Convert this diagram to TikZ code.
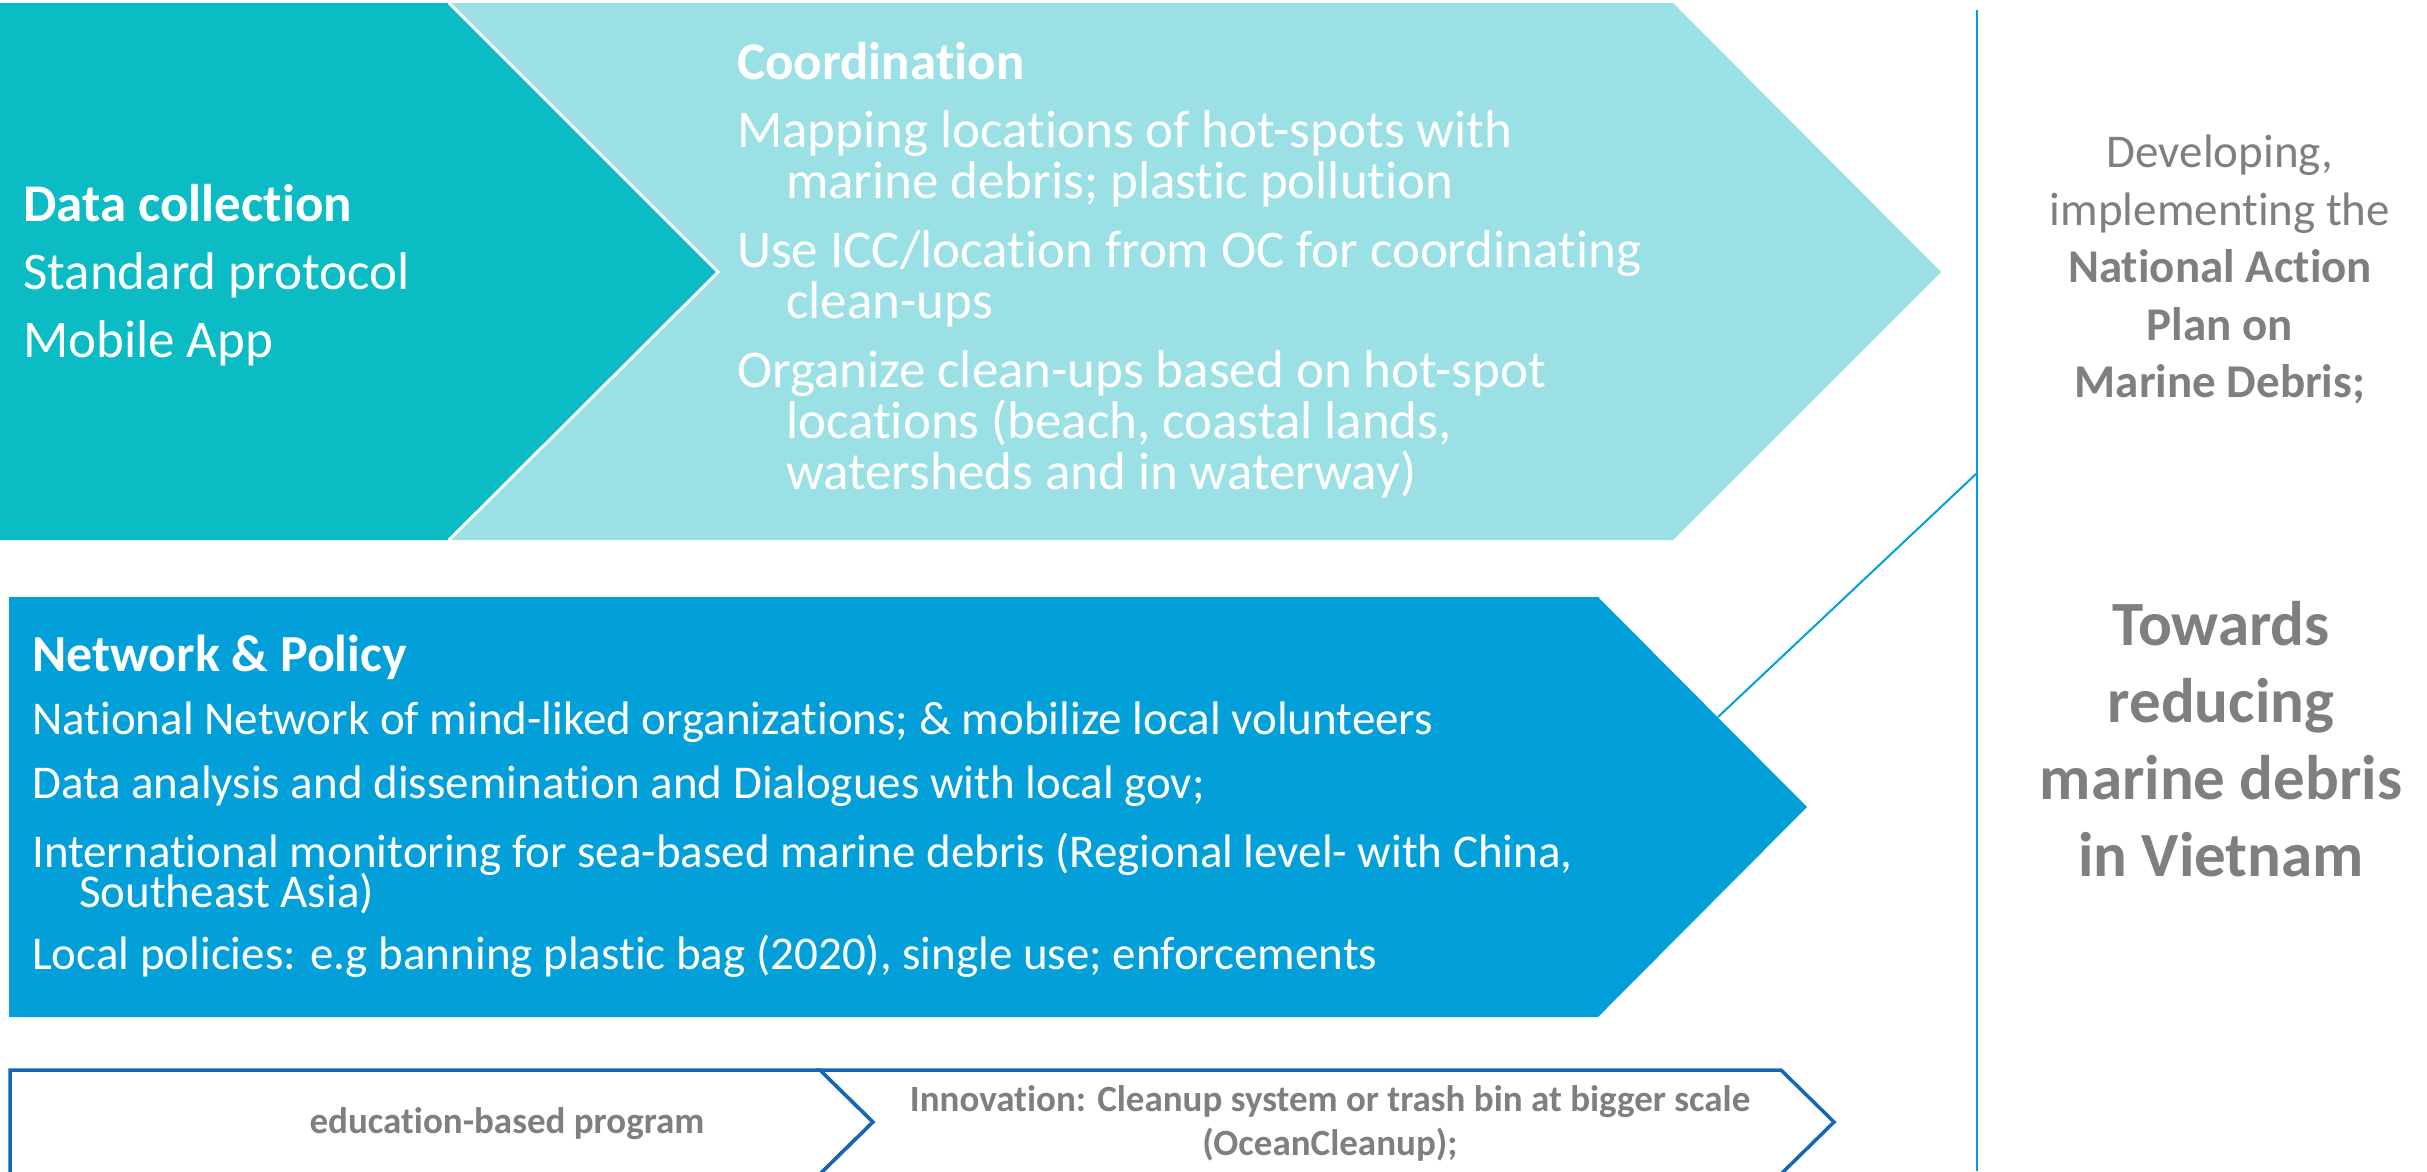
\documentclass[tikz,border=0pt]{standalone}
\usepackage{fontspec}
\setmainfont{Carlito}[Ligatures=NoCommon]
\usepackage{tikz}
\definecolor{darkteal}{HTML}{0BBCC4}
\definecolor{lightteal}{HTML}{9BE0E5}
\definecolor{netblue}{HTML}{029FD8}
\definecolor{edgeblue}{HTML}{1565B8}
\definecolor{linkblue}{HTML}{00A0DC}
\definecolor{textgray}{HTML}{7F7F7F}
\newcommand{\tightlines}{\lineskiplimit=-100pt\lineskip=0pt}
\tikzstyle{whitetext} = [text=white, align=left, anchor=north west, inner sep=0]
\tikzstyle{graytext} = [text=textgray, align=center, inner sep=0]
\tikzstyle{outline} = [draw=edgeblue, line width=3.5pt, line join=miter, fill=white]
\tikzstyle{link} = [draw=linkblue, line width=2pt]

\begin{document}
\begin{tikzpicture}[x=1pt, y=-1pt]
\useasboundingbox (0,0) rectangle (2427,1171);
\clip (0,0) rectangle (2427,1171);

% top row: coordination arrow behind, data collection in front
\fill [lightteal] (449,3) -- (1673,3) -- (1941,272) -- (1673,540) -- (449,540) -- (718,272) -- cycle;
\fill [darkteal] (0,3) -- (449,3) -- (718,272) -- (449,540) -- (0,540) -- cycle;
\draw [white, line width=3pt] (449,3) -- (718,272) -- (449,540);

\node [whitetext, font=\fontsize{53}{68}\selectfont\tightlines] at (23,184) (datacoll) {\textbf{Data collection}\\Standard protocol\\Mobile App};

\node [whitetext, font=\fontsize{53}{51}\selectfont\tightlines] at (737,42) (coord) {\textbf{Coordination}\\[17pt]
Mapping locations of hot-spots with\\
\hspace*{49pt}marine debris; plastic pollution\\[18pt]
Use ICC/location from OC for coordinating\\
\hspace*{49pt}clean-ups\\[18pt]
Organize clean-ups based on hot-spot\\
\hspace*{49pt}locations (beach, coastal lands,\\
\hspace*{49pt}watersheds and in waterway)};

% network and policy
\fill [netblue] (9,597) -- (1598,597) -- (1807,807) -- (1598,1017) -- (9,1017) -- cycle;

\node [whitetext, font=\fontsize{47}{40}\selectfont\tightlines] at (32,635) (network) {{\fontsize{52}{40}\selectfont\textbf{Network \& Policy}}\\[23pt]
National Network of mind-liked organizations; \& mobilize local volunteers\\[24pt]
Data analysis and dissemination and Dialogues with local gov;\\[29pt]
International monitoring for sea-based marine debris (Regional level- with China,\\
\hspace*{47pt}Southeast Asia)\\[22pt]
Local policies: e.g banning plastic bag (2020), single use; enforcements};

% divider and goal
\coordinate (divtop) at (1977,10);
\coordinate (divbot) at (1977,1171);
\coordinate (divjoin) at (1977,473);
\coordinate (netedge) at (1718,717);
\path [link] (divtop) -- (divbot);
\path [link] (netedge) -- (divjoin);

\node [graytext, anchor=north, font=\fontsize{47}{57.5}\selectfont\tightlines] at (2220,135) (plan) {Developing,\\implementing the\\\textbf{National Action}\\\textbf{Plan on}\\\textbf{Marine Debris;}};
\node [graytext, anchor=north, font=\fontsize{63}{77}\selectfont\bfseries\tightlines] at (2221,601) (goal) {Towards\\reducing\\marine debris\\in Vietnam};

% bottom row
\draw [outline] (10,1070) -- (820,1070) -- (873,1122) -- (820,1174) -- (10,1174) -- cycle;
\draw [outline] (820,1070) -- (1781,1070) -- (1834,1122) -- (1781,1174) -- (820,1174) -- (873,1122) -- cycle;

\node [graytext, anchor=base, font=\fontsize{37}{44}\selectfont\bfseries] at (507,1133) (edu) {education-based program};
\node [graytext, anchor=north, font=\fontsize{37}{44}\selectfont\bfseries\tightlines] at (1330,1085) (innov) {Innovation: Cleanup system or trash bin at bigger scale\\(OceanCleanup);};

\end{tikzpicture}
\end{document}
